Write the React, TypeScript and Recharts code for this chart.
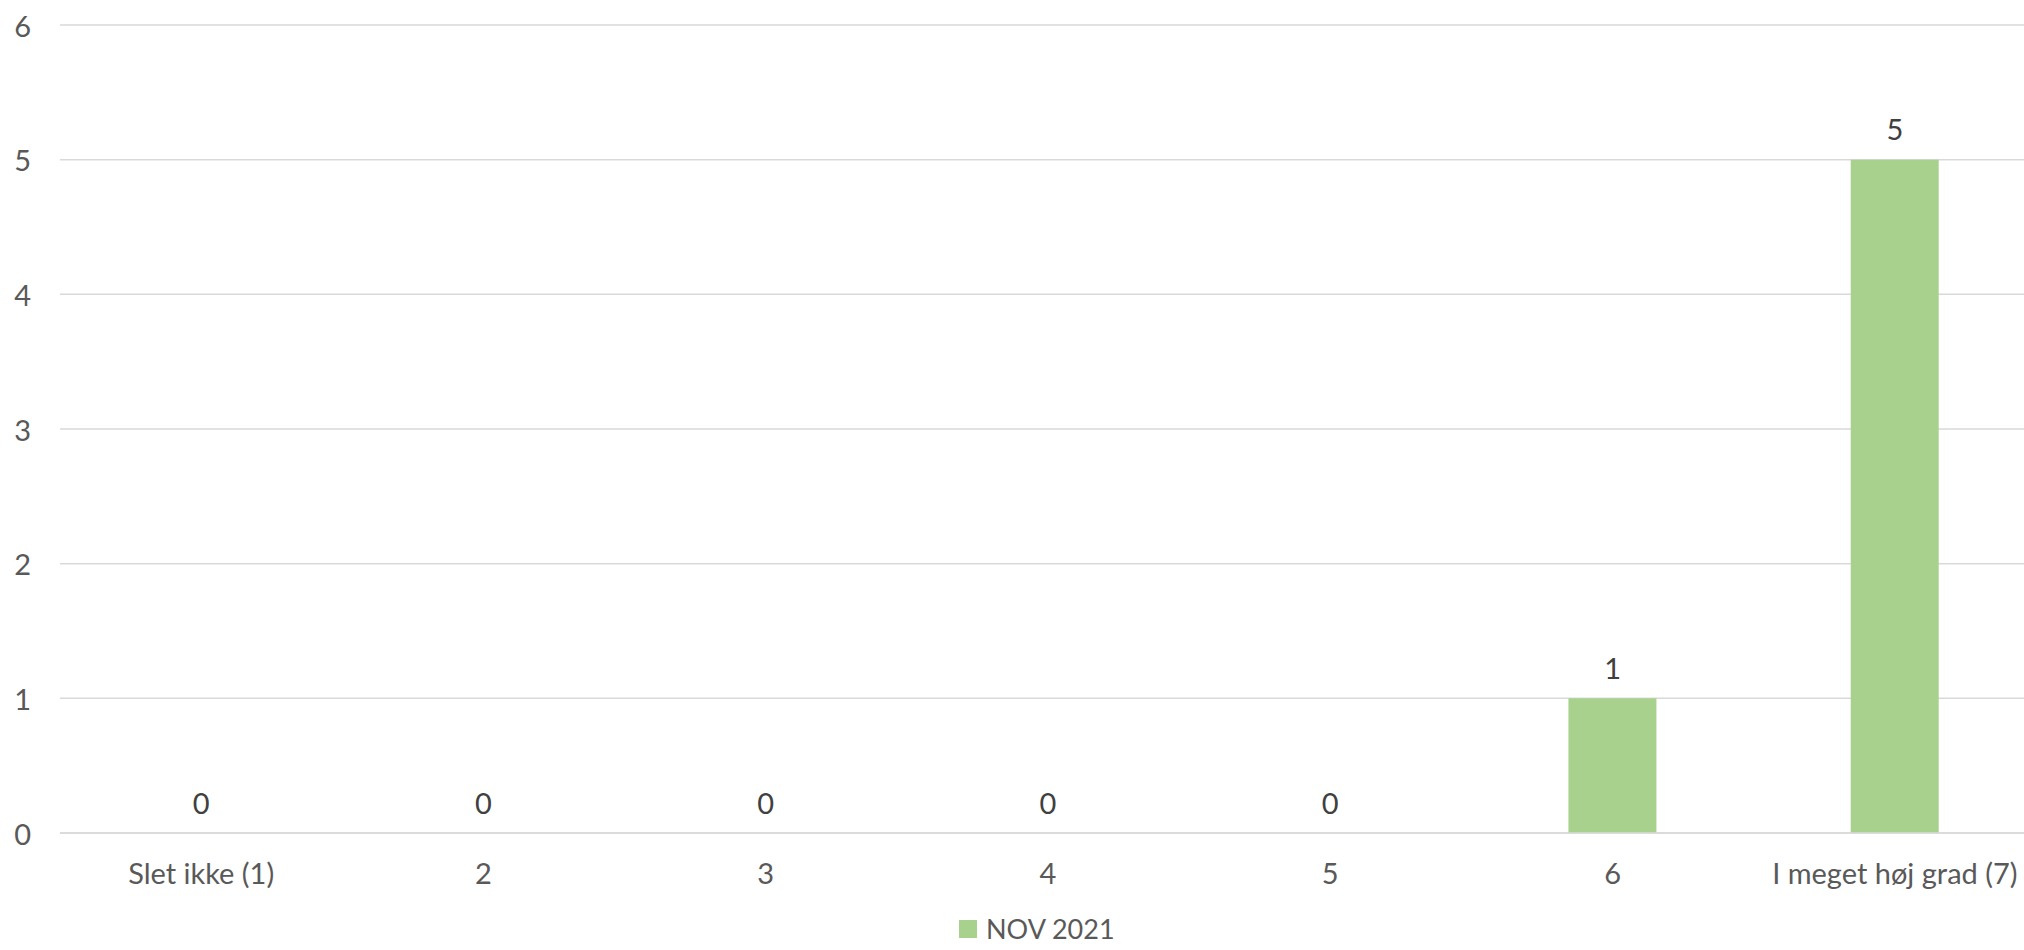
import React from 'react';
import {Bar, CartesianGrid, ComposedChart, LabelList, Line, XAxis, YAxis} from "recharts";

const categories = ["Slet ikke (1)", "2", "3", "4", "5", "6", "I meget høj grad (7)"];
const nov2021 = [0, 0, 0, 0, 0, 1, 5];
const yTicks = [0, 1, 2, 3, 4, 5, 6];

const seriesName = "NOV 2021";
const barColor = "#A9D18E";
const font = "Lato, 'Open Sans', sans-serif";

const data = categories.map((name, i) => ({name, value: nov2021[i]}));

function YTick(props: any): React.ReactElement {
    const {y, payload} = props;
    return (
        <text x={31} y={y} textAnchor="end" dominantBaseline="central" fontSize={29} fill="#595959" fontFamily={font}>
            {payload.value}
        </text>
    );
}

function XTick(props: any): React.ReactElement {
    const {x, payload} = props;
    return (
        <text x={x} y={872} textAnchor="middle" dominantBaseline="central" fontSize={29} fill="#595959" fontFamily={font}>
            {payload.value}
        </text>
    );
}

// labels hang off an invisible line so zero-height bars still get one
function TopLabel(props: any): React.ReactElement {
    const {x, y, value} = props;
    return (
        <text x={x} y={y - 31} textAnchor="middle" dominantBaseline="central" fontSize={29} fill="#404040" fontFamily={font}>
            {value}
        </text>
    );
}

export default function App(): React.ReactElement {
    return (
        <div style={{position: "fixed", left: 0, top: 0, width: 2024, height: 950, overflow: "hidden", background: "#fff"}}>
            <ComposedChart
                width={2036}
                height={950}
                data={data}
                margin={{top: 25, right: 0, left: 0, bottom: 0}}
                barSize={88}
            >
                <CartesianGrid vertical={false} stroke="#d9d9d9" strokeWidth={1.5}/>
                <XAxis
                    dataKey="name"
                    axisLine={{stroke: "#d9d9d9", strokeWidth: 1.5}}
                    tickLine={false}
                    tick={<XTick/>}
                    interval={0}
                    height={117}
                />
                <YAxis
                    domain={[0, 6]}
                    ticks={yTicks}
                    axisLine={false}
                    tickLine={false}
                    tick={<YTick/>}
                    width={60}
                    interval={0}
                />
                <Bar dataKey="value" name={seriesName} fill={barColor} isAnimationActive={false}/>
                <Line dataKey="value" stroke="none" dot={false} activeDot={false} legendType="none" isAnimationActive={false}>
                    <LabelList dataKey="value" content={<TopLabel/>}/>
                </Line>
            </ComposedChart>
            <div style={{position: "absolute", left: 959, top: 917, height: 24, lineHeight: "24px", display: "flex", alignItems: "center", gap: 9, fontFamily: font, fontSize: 27, color: "#595959"}}>
                <span style={{width: 18, height: 18, backgroundColor: barColor, display: "inline-block"}}></span>
                <span>{seriesName}</span>
            </div>
        </div>
    );
}
